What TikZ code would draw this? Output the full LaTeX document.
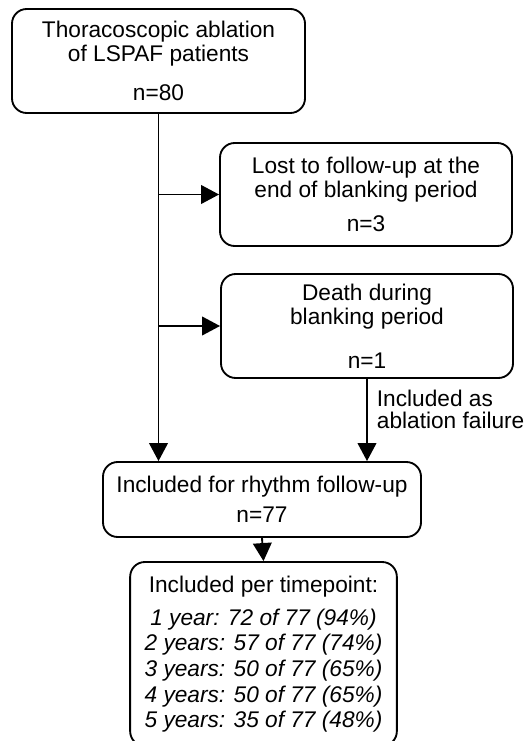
\documentclass[tikz,border=0pt]{standalone}
\usepackage{fontspec}
\setmainfont{Liberation Sans}
\usetikzlibrary{arrows.meta}
\begin{document}
\begin{tikzpicture}[>={Triangle[length=13.5pt,width=14pt]},x=0.75pt,y=-0.75pt,
    flowbox/.style={draw,line width=1.4pt,rounded corners=11pt,align=center,inner sep=0pt,font=\fontsize{17}{18}\selectfont},
    conn/.style={line width=1.4pt,->}]
\useasboundingbox (0,0) rectangle (527,741);
\node[flowbox,minimum width=219.75pt,minimum height=78pt] (abl) at (158.5,61) {Thoracoscopic ablation\\of LSPAF patients\\[11pt]n=80};
\node[flowbox,minimum width=219pt,minimum height=77.25pt] (lost) at (366,194.5) {Lost to follow-up at the\\end of blanking period\\[7.5pt]n=3};
\node[flowbox,minimum width=219pt,minimum height=78pt] (death) at (367,326) {Death during\\blanking period\\[15pt]n=1};
\node[flowbox,minimum width=238.5pt,minimum height=56.25pt] (rhythm) at (262,499.5) {Included for rhythm follow-up\\[4.5pt]n=77};
\node[flowbox,minimum width=200pt,minimum height=138pt,font=\fontsize{17}{19.2}\selectfont] (tp) at (263.5,654) {Included per timepoint:\\[5.8pt]
    \textit{1 year: 72 of 77 (94\%)}\\\textit{2 years: 57 of 77 (74\%)}\\\textit{3 years: 50 of 77 (65\%)}\\
    \textit{4 years: 50 of 77 (65\%)}\\\textit{5 years: 35 of 77 (48\%)}};
% connectors
\draw[conn] (abl.south) -- (abl.south |- rhythm.north);
\draw[conn] (abl.south |- lost.west) -- (lost.west);
\draw[conn] (abl.south |- death.west) -- (death.west);
\draw[conn] (death.south) -- node[pos=0.37,right,align=left,inner sep=0pt,xshift=6.75pt,font=\fontsize{17}{16}\selectfont] (fail) {Included as\\ablation failure} (death.south |- rhythm.north);
\draw[conn] (rhythm.south) -- (tp.north);
\end{tikzpicture}
\end{document}
